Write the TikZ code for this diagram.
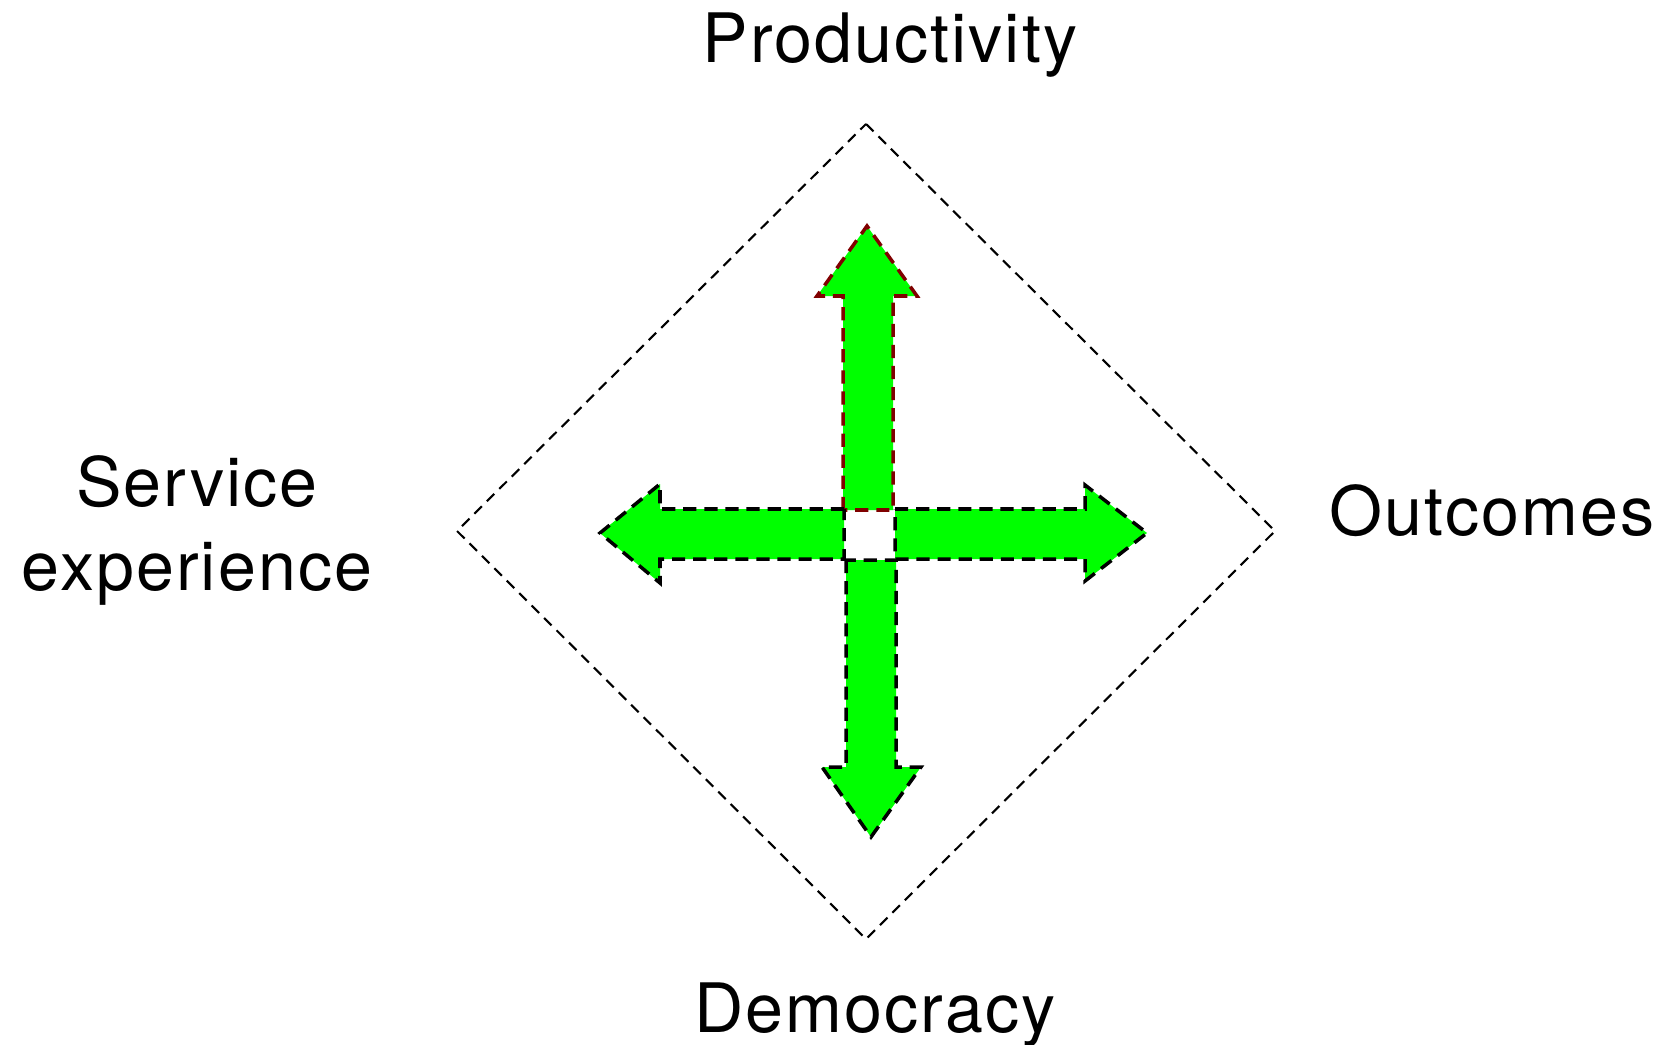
\documentclass[tikz,border=0pt]{standalone}
\usepackage{fontspec}
\setmainfont{TeX Gyre Heros}[LetterSpace=3]
\definecolor{arrowgreen}{HTML}{00FF00}
\definecolor{arrowred}{HTML}{800000}
\begin{document}
\begin{tikzpicture}[x=0.02cm, y=-0.02cm,
        axisarrow/.style={fill=arrowgreen, line width=2pt, dash pattern=on 7.5pt off 4.5pt},
        labeltext/.style={font=\fontsize{38.8}{47.8}\selectfont, inner sep=0pt}]
            \useasboundingbox (0,0) rectangle (1664,1045);
            % dashed frame
            \draw[line width=1.2pt, dash pattern=on 6pt off 4pt, black] (866,124) -- (1275,531) -- (866,939) -- (457,531) -- cycle;
            % four arrows round the middle square
            \draw[axisarrow, draw=arrowred] (843,510) -- (843,296) -- (817,296) -- (867,226) -- (917,296) -- (893,296) -- (893,510) -- cycle;
            \draw[axisarrow, draw=black] (846,560) -- (846,767) -- (822,767) -- (871,837) -- (921,767) -- (896,767) -- (896,560) -- cycle;
            \draw[axisarrow, draw=black] (844,509) -- (660,509) -- (660,484) -- (600,533) -- (660,583) -- (660,559) -- (844,559) -- cycle;
            \draw[axisarrow, draw=black] (895,509) -- (1085,509) -- (1085,485) -- (1147,533) -- (1085,581) -- (1085,559) -- (895,559) -- cycle;
            % labels
            \node[labeltext, anchor=base] (productivity) at (890,62) {Productivity};
            \node[labeltext, anchor=base] (democracy) at (875,1032) {Democracy};
            \node[labeltext, anchor=base west] (outcomes) at (1329,535) {Outcomes};
            \node[labeltext, align=center] (service) at (197,530) {Service\\experience};
        \end{tikzpicture}
\end{document}
